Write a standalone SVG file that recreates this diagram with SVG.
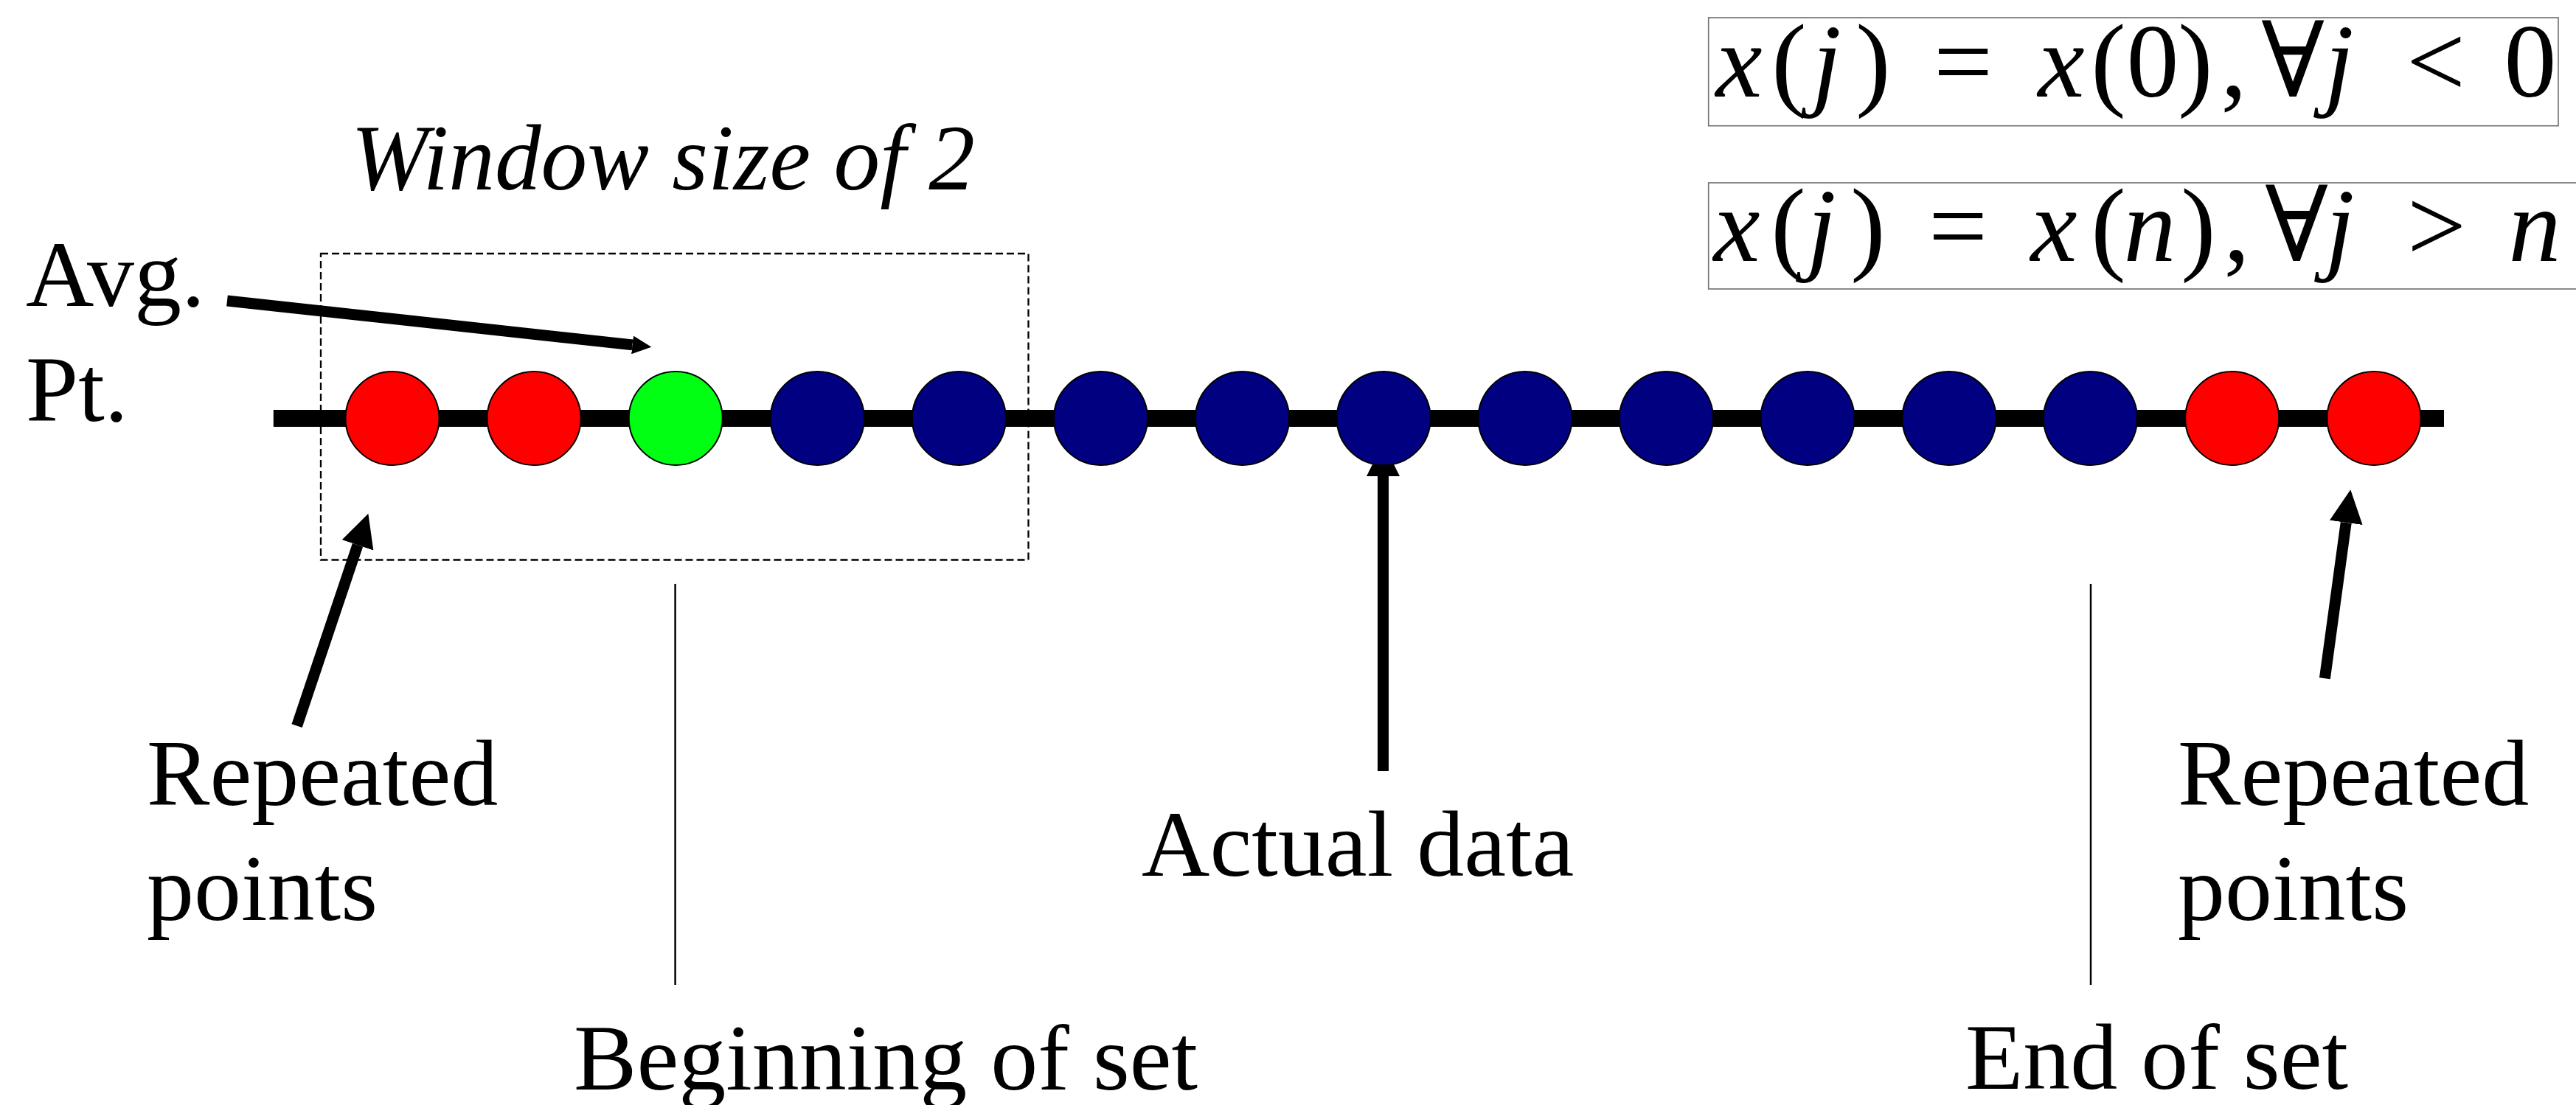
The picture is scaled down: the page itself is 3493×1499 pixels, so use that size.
<svg xmlns="http://www.w3.org/2000/svg" width="3493" height="1499" viewBox="0 0 3493 1499">
<defs>
<style>
.lbl{font-family:"Liberation Serif","Times New Roman",serif;font-size:128px;fill:#000}
.ital{font-style:italic}
.eq{font-family:"Liberation Serif","DejaVu Serif",serif;font-size:142px;fill:#000;text-anchor:middle}
.eqbox{fill:#fff;stroke:#6e6e6e;stroke-width:1.6}
.pt{stroke:#000;stroke-width:2}
.red{fill:#ff0000}
.green{fill:#00ff12}
.navy{fill:#000080}
.thick{stroke:#000;stroke-width:15;fill:none}
.thin{stroke:#000;stroke-width:2.5;fill:none}
</style>
<marker id="headBig" viewBox="0 0 45 45" markerWidth="45" markerHeight="45" markerUnits="userSpaceOnUse" refX="0" refY="22.5" orient="auto">
<path d="M0,0 L45,22.5 L0,45 Z" fill="#000"/>
</marker>
<marker id="headSmall" viewBox="0 0 26 25" markerWidth="26" markerHeight="25" markerUnits="userSpaceOnUse" refX="0" refY="12.5" orient="auto">
<path d="M0,0 L26,12.5 L0,25 Z" fill="#000"/>
</marker>
</defs>
<rect width="3493" height="1499" fill="#fff"/>

<g id="equations">
<g id="eq1">
<rect class="eqbox" x="2316.7" y="24" width="1152.3" height="146.7"/>
<text class="eq" y="131"><tspan x="2358" class="ital">x</tspan><tspan x="2426">(</tspan><tspan x="2477" class="ital">j</tspan><tspan x="2540">)</tspan><tspan x="2662">=</tspan><tspan x="2795" class="ital">x</tspan><tspan x="2859">(</tspan><tspan x="2919">0</tspan><tspan x="2977">)</tspan><tspan x="3029">,</tspan><tspan x="3109">∀</tspan><tspan x="3172" class="ital">j</tspan><tspan x="3303">&lt;</tspan><tspan x="3431">0</tspan></text>
</g>
<g id="eq2">
<rect class="eqbox" x="2316.7" y="248" width="1190" height="144"/>
<text class="eq" y="353.5"><tspan x="2355" class="ital">x</tspan><tspan x="2425">(</tspan><tspan x="2470" class="ital">j</tspan><tspan x="2533">)</tspan><tspan x="2655">=</tspan><tspan x="2785" class="ital">x</tspan><tspan x="2859">(</tspan><tspan x="2915" class="ital">n</tspan><tspan x="2981">)</tspan><tspan x="3033">,</tspan><tspan x="3114">∀</tspan><tspan x="3173" class="ital">j</tspan><tspan x="3304">&gt;</tspan><tspan x="3437" class="ital">n</tspan></text>
</g>
</g>

<g id="window">
<rect x="435" y="344" width="959.5" height="415.5" fill="none" stroke="#000" stroke-width="2.3" stroke-dasharray="10 5"/>
<text class="lbl ital" x="476" y="257" font-size="126" textLength="846" lengthAdjust="spacingAndGlyphs">Window size of 2</text>
</g>

<g id="axis">
<line x1="370.8" y1="567.5" x2="3314" y2="567.5" stroke="#000" stroke-width="23"/>
</g>

<g id="connectors">
<line class="thick" x1="308" y1="408" x2="857.5" y2="467.9" stroke-width="7" marker-end="url(#headSmall)"/>
<line class="thick" x1="402.6" y1="984.7" x2="485" y2="739.4" marker-end="url(#headBig)"/>
<line class="thick" x1="1875.5" y1="1046" x2="1875.5" y2="646" stroke-width="16" marker-end="url(#headBig)"/>
<line class="thick" x1="3152.4" y1="920.2" x2="3181.2" y2="708.9" marker-end="url(#headBig)"/>
<line class="thin" x1="915.6" y1="792" x2="915.6" y2="1336"/>
<line class="thin" x1="2835" y1="792" x2="2835" y2="1336"/>
</g>

<g id="points">
<g id="p0"><circle class="pt red" cx="532" cy="567.5" r="63.5"/></g>
<g id="p1"><circle class="pt red" cx="724.1" cy="567.5" r="63.5"/></g>
<g id="p2"><circle class="pt green" cx="916.2" cy="567.5" r="63.5"/></g>
<g id="p3"><circle class="pt navy" cx="1108.3" cy="567.5" r="63.5"/></g>
<g id="p4"><circle class="pt navy" cx="1300.4" cy="567.5" r="63.5"/></g>
<g id="p5"><circle class="pt navy" cx="1492.5" cy="567.5" r="63.5"/></g>
<g id="p6"><circle class="pt navy" cx="1684.6" cy="567.5" r="63.5"/></g>
<g id="p7"><circle class="pt navy" cx="1876.2" cy="567.5" r="63.5"/></g>
<g id="p8"><circle class="pt navy" cx="2068" cy="567.5" r="63.5"/></g>
<g id="p9"><circle class="pt navy" cx="2259.5" cy="567.5" r="63.5"/></g>
<g id="p10"><circle class="pt navy" cx="2451" cy="567.5" r="63.5"/></g>
<g id="p11"><circle class="pt navy" cx="2643" cy="567.5" r="63.5"/></g>
<g id="p12"><circle class="pt navy" cx="2834.5" cy="567.5" r="63.5"/></g>
<g id="p13"><circle class="pt red" cx="3026.7" cy="567.5" r="63.5"/></g>
<g id="p14"><circle class="pt red" cx="3219" cy="567.5" r="63.5"/></g>
</g>

<g id="labels">
<g id="avg-label"><text class="lbl" x="35" y="415">Avg.</text><text class="lbl" x="35" y="571">Pt.</text></g>
<g id="repeated-left"><text class="lbl" x="199" y="1092">Repeated</text><text class="lbl" x="199" y="1248">points</text></g>
<g id="actual-label"><text class="lbl" x="1548" y="1188">Actual data</text></g>
<g id="begin-label"><text class="lbl" x="778" y="1478">Beginning of set</text></g>
<g id="repeated-right"><text class="lbl" x="2953" y="1092">Repeated</text><text class="lbl" x="2953" y="1248">points</text></g>
<g id="end-label"><text class="lbl" x="2665" y="1477">End of set</text></g>
</g>
</svg>
